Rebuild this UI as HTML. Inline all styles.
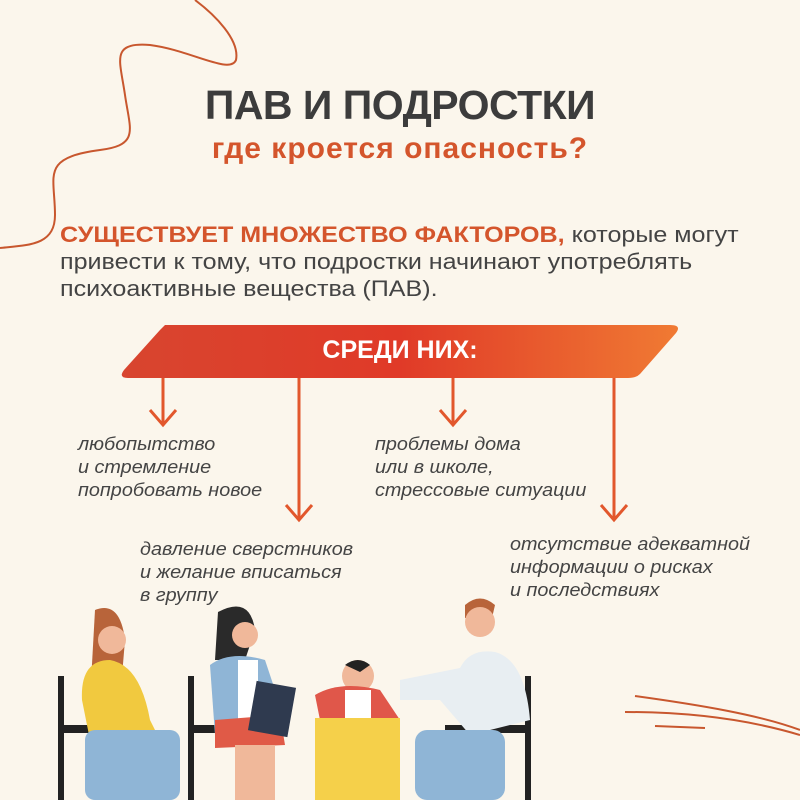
<!DOCTYPE html>
<html><head><meta charset="utf-8"><style>
body{margin:0;width:800px;height:800px;background:#fbf6ec;position:relative;overflow:hidden;font-family:"Liberation Sans",sans-serif}
.t{position:absolute;white-space:nowrap}
.it{font-style:italic;color:#444;font-size:18px;line-height:23px;transform:scaleX(1.1);transform-origin:0 0}
</style></head><body>
<svg width="800" height="800" style="position:absolute;left:0;top:0">
<defs><linearGradient id="g" x1="0" x2="1"><stop offset="0" stop-color="#d8452f"/><stop offset="0.5" stop-color="#e03a28"/><stop offset="1" stop-color="#f07a33"/></linearGradient></defs>
<path d="M195 0 C215 15 240 40 236 60 C230 75 190 50 150 45 C110 42 120 60 125 95 C130 130 140 145 100 150 C40 158 55 175 55 215 C55 245 30 245 0 248" fill="none" stroke="#c8572e" stroke-width="2"/>
<path d="M635 696 C700 705 760 715 800 730 M625 712 C690 712 750 720 800 735 M655 726 L705 728" fill="none" stroke="#c8572e" stroke-width="2"/>
<path d="M165 325 L670 325 Q682 325 676 333 L640 374 Q636 378 628 378 L128 378 Q118 378 124 370 L160 330 Z" fill="url(#g)"/>
<g stroke="#e2572c" stroke-width="3" fill="none">
<path d="M163 378 V425 M150 410 L163 425 L176 410"/>
<path d="M299 378 V520 M286 505 L299 520 L312 505"/>
<path d="M453 378 V425 M440 410 L453 425 L466 410"/>
<path d="M614 378 V520 M601 505 L614 520 L627 505"/>
</g>
<g fill="#222">
<rect x="60" y="725" width="80" height="8"/><rect x="58" y="676" width="6" height="124"/>
<rect x="188" y="725" width="80" height="8"/><rect x="188" y="676" width="6" height="124"/>
<rect x="445" y="725" width="80" height="8"/><rect x="525" y="676" width="6" height="124"/>
<rect x="340" y="730" width="40" height="8"/>
</g>
<path d="M95 610 Q120 600 125 640 L120 700 L90 700 Z" fill="#b8643a"/>
<circle cx="112" cy="640" r="14" fill="#f0b89a"/>
<path d="M82 700 Q80 660 110 660 Q140 665 150 720 L160 740 L90 740 Z" fill="#f1c93f"/>
<rect x="85" y="730" width="95" height="70" rx="10" fill="#8fb5d6"/>
<path d="M218 612 Q250 595 255 630 L245 660 L215 660 Z" fill="#2a2a2a"/>
<circle cx="245" cy="635" r="13" fill="#f0b89a"/>
<path d="M210 665 Q230 650 265 660 L285 720 L215 735 Z" fill="#8fb5d6"/>
<rect x="238" y="660" width="20" height="60" fill="#fff"/>
<path d="M215 720 L280 715 L285 745 L215 748 Z" fill="#e05a47"/>
<rect x="252" y="684" width="40" height="50" fill="#2f3a4f" transform="rotate(10 272 709)"/>
<rect x="235" y="745" width="40" height="55" fill="#f0b89a"/>
<circle cx="358" cy="676" r="16" fill="#f0b89a"/>
<path d="M345 665 Q358 655 370 665 L360 672 Z" fill="#222"/>
<path d="M315 695 Q340 680 380 690 L400 720 L320 720 Z" fill="#e0574a"/>
<rect x="345" y="690" width="26" height="40" fill="#fff"/>
<rect x="315" y="718" width="85" height="82" fill="#f5d04a"/>
<path d="M465 605 Q480 592 495 605 L492 618 L465 618 Z" fill="#b8643a"/>
<circle cx="480" cy="622" r="15" fill="#f0b89a"/>
<path d="M400 680 L460 668 Q470 648 495 652 Q525 660 530 720 L470 735 L440 700 L400 700 Z" fill="#e8eef2"/>
<rect x="415" y="730" width="90" height="70" rx="12" fill="#8fb5d6"/>
</svg>
<div class="t" style="left:0;width:800px;text-align:center;top:82px;font-size:41px;font-weight:bold;color:#3c3c3c;letter-spacing:-0.5px">ПАВ И ПОДРОСТКИ</div>
<div class="t" style="left:0;width:800px;text-align:center;top:132px;font-size:30px;font-weight:bold;color:#d4552c;letter-spacing:1px">где кроется опасность?</div>
<div class="t" style="left:60px;top:221px;font-size:22px;line-height:27px;color:#444;transform:scaleX(1.14);transform-origin:0 0"><span style="color:#d4552c;font-weight:bold">СУЩЕСТВУЕТ МНОЖЕСТВО ФАКТОРОВ,</span> которые могут<br>привести к тому, что подростки начинают употреблять<br>психоактивные вещества (ПАВ).</div>
<div class="t" style="left:0;width:800px;text-align:center;top:336px;font-size:25px;font-weight:bold;color:#fff">СРЕДИ НИХ:</div>
<div class="t it" style="left:78px;top:433px">любопытство<br>и стремление<br>попробовать новое</div>
<div class="t it" style="left:375px;top:433px">проблемы дома<br>или в школе,<br>стрессовые ситуации</div>
<div class="t it" style="left:140px;top:538px">давление сверстников<br>и желание вписаться<br>в группу</div>
<div class="t it" style="left:510px;top:533px">отсутствие адекватной<br>информации о рисках<br>и последствиях</div>
</body></html>
